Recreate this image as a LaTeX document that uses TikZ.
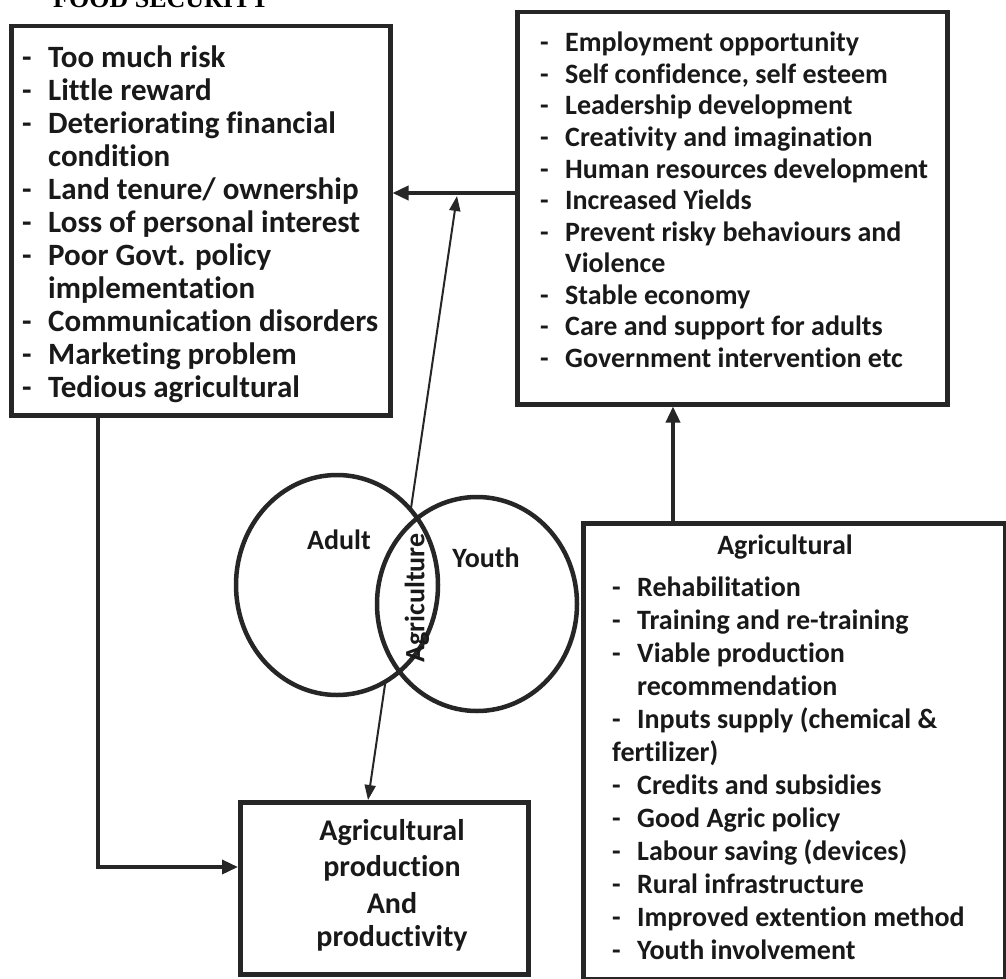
\documentclass[tikz,border=0pt]{standalone}
\usepackage{fontspec}
\setmainfont{Carlito}[Ligatures={NoCommon,NoRequired,NoContextual}, Contextuals=NoAlternate]
\newfontfamily\titlefont{Liberation Serif}
\usetikzlibrary{arrows.meta,shapes.geometric}
\newcommand\tix{t\kern0pt i}
\newcommand\myitem[5]{\node[item] (#1d) at (#2,#4) {-};\node[item] (#1) at (#3,#4) {#5};}
\begin{document}
\begin{tikzpicture}[x=1pt,y=-1pt,
  box/.style={draw=black!85, line width=4.5pt, rectangle, inner sep=0pt, anchor=north west},
  lbl/.style={inner sep=0pt, font=\fontsize{28}{30}\selectfont\bfseries, text=black!90},
  biglbl/.style={lbl, font=\fontsize{30}{32}\selectfont\bfseries},
  conn/.style={draw=black!85, line width=3.5pt, -{Triangle[length=16pt,width=14pt]}},
  diag/.style={draw=black!85, line width=2pt, {Triangle[length=15pt,width=11pt]}-{Triangle[length=15pt,width=11pt]}},
  venn/.style={ellipse, draw=black!85, line width=4.5pt, inner sep=0pt},
]
\useasboundingbox[fill=white] (0,0) rectangle (1006,979);

% title (cut off at the top, as in the scan)
\node[anchor=base west, inner sep=0pt, font=\titlefont\bfseries\fontsize{26}{26}\selectfont] (title) at (53,8) {FOOD SECURITY};

% boxes
\node[box, minimum width=379pt, minimum height=389pt] (L) at (9,24) {};
\node[box, minimum width=430pt, minimum height=392pt] (R1) at (515,10) {};
\node[box, minimum width=422pt, minimum height=456pt] (R2) at (581,521) {};
\node[box, minimum width=288pt, minimum height=172pt] (B) at (238,800) {};

% left box text
\begin{scope}[item/.style={anchor=west, inner sep=0pt, font=\fontsize{31}{33}\selectfont\bfseries, text=black!90, text height=22pt, text depth=7pt}]
\myitem{l1}{22}{48}{60}{Too much risk}
\myitem{l2}{22}{48}{93}{Little reward}
\myitem{l3}{22}{48}{126}{Deteriora\tix{}ng financial}
\node[item] (l3b) at (48,159) {condi\tix{}on};
\myitem{l4}{22}{48}{192}{Land tenure/ ownership}
\myitem{l5}{22}{48}{225}{Loss of personal interest}
\myitem{l6}{22}{48}{258}{Poor Govt. policy}
\node[item] (l6b) at (48,291) {implementa\tix{}on};
\myitem{l7}{22}{48}{324}{Communica\tix{}on disorders}
\myitem{l8}{22}{48}{357}{Marketing problem}
\myitem{l9}{22}{48}{390}{Tedious agricultural}
\end{scope}

\begin{scope}[item/.style={anchor=west, inner sep=0pt, font=\fontsize{28}{30}\selectfont\bfseries, text=black!90, text height=20pt, text depth=6pt}]
% top right box text
\myitem{r1}{540}{565}{45}{Employment opportunity}
\myitem{r2}{540}{565}{76.5}{Self confidence, self esteem}
\myitem{r3}{540}{565}{108}{Leadership development}
\myitem{r4}{540}{565}{139.5}{Crea\tix{}vity and imagina\tix{}on}
\myitem{r5}{540}{565}{171}{Human resources development}
\myitem{r6}{540}{565}{202.5}{Increased Yields}
\myitem{r7}{540}{565}{234}{Prevent risky behaviours and}
\node[item] (r7b) at (565,265.5) {Violence};
\myitem{r8}{540}{565}{297}{Stable economy}
\myitem{r9}{540}{565}{328.5}{Care and support for adults}
\myitem{r10}{540}{565}{360}{Government interven\tix{}on etc}

% bottom right box text
\node[lbl] (agtitle) at (785,547) {Agricultural};
\myitem{a1}{612}{637}{589}{Rehabilita\tix{}on}
\myitem{a2}{612}{637}{622}{Training and re-training}
\myitem{a3}{612}{637}{655}{Viable produc\tix{}on}
\node[item] (a3b) at (637,688) {recommenda\tix{}on};
\myitem{a4}{612}{637}{721}{Inputs supply (chemical \&}
\node[item] (a4b) at (612,754) {fer\tix{}lizer)};
\myitem{a5}{612}{637}{787}{Credits and subsidies}
\myitem{a6}{612}{637}{820}{Good Agric policy}
\myitem{a7}{612}{637}{853}{Labour saving (devices)}
\myitem{a8}{612}{637}{886}{Rural infrastructure}
\myitem{a9}{612}{637}{919}{Improved exten\tix{}on method}
\myitem{a10}{612}{637}{952}{Youth involvement}
\end{scope}

% bottom box text
\node[biglbl] (b1) at (392,833) {Agricultural};
\node[biglbl] (b2) at (392,868) {produc\tix{}on};
\node[biglbl] (b3) at (392,903) {And};
\node[biglbl] (b4) at (392,938) {produc\tix{}vity};

% helper coordinates
\coordinate (hy) at (0,193);
\coordinate (hit) at (457,196);
\coordinate (up) at (673,0);
\coordinate (lx) at (98,867);
\coordinate (bt) at (368,0);
\coordinate (ac) at (337,585);
\coordinate (yc) at (477,604);

% connectors
\draw[conn] (R1.west |- hy) -- (L.east |- hy);
\draw[conn] (R2.north -| up) -- (R1.south -| up);
\draw[conn] (L.south -| lx) |- (B.west |- lx);
\draw[diag] (B.north -| bt) -- (hit);

% Venn diagram
\fill[white] (ac) ellipse [x radius=101pt, y radius=110pt];
\fill[white] (yc) ellipse [x radius=100pt, y radius=107pt];
\node[venn, minimum width=202pt, minimum height=220pt] (adult) at (ac) {};
\node[venn, minimum width=200pt, minimum height=214pt] (youth) at (yc) {};
\node[lbl] (adultlbl) at (339,540) {Adult};
\node[lbl] (youthlbl) at (486,558) {Youth};
\node[lbl, rotate=90] (agri) at (417,598) {Agriculture};
\end{tikzpicture}
\end{document}
